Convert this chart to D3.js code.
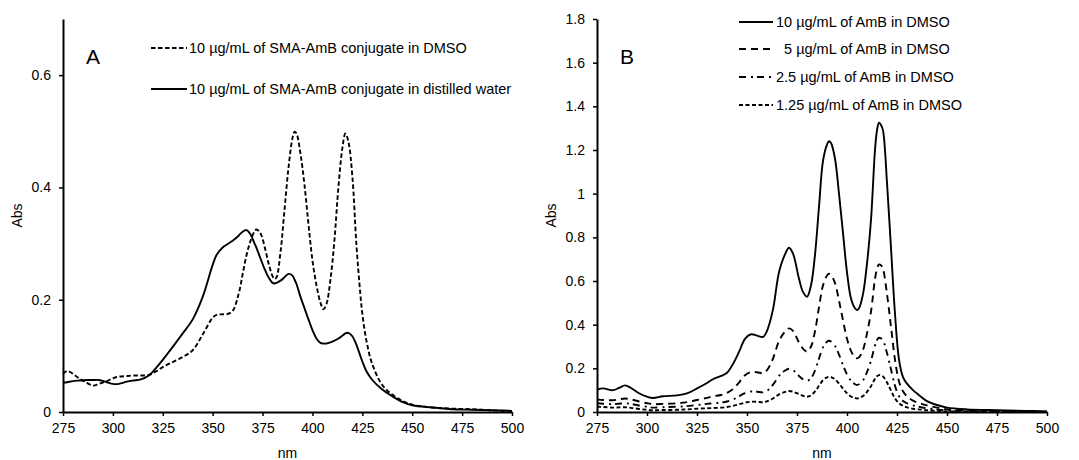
<!DOCTYPE html>
<html>
<head>
<meta charset="utf-8">
<script src="https://cdn.jsdelivr.net/npm/d3@7"></script>
<style>
  body { margin: 0; background: #fff; }
  svg text { font-family: Arial, "Liberation Sans", sans-serif; fill: #000; }
</style>
</head>
<body>
<div id="vis"></div>
<script>
// panel A: SMA-AmB conjugate
var nmA = [275, 277, 280, 283, 287, 290, 293, 297, 300, 303, 307, 310, 314, 318, 322, 325, 330, 335, 340, 345,
  350, 352, 355, 357, 360, 363, 365, 367, 369, 371, 372, 374, 376, 378, 380, 381, 382, 384, 386, 388,
  390, 391, 392, 394, 396, 398, 400, 402, 404, 405.5, 407, 409, 411, 413, 415, 416.5, 418, 420, 422, 424,
  425, 427, 430, 435, 440, 445, 450, 460, 470, 480, 490, 500];

var waterA = [0.052, 0.053, 0.055, 0.056, 0.057, 0.057, 0.057, 0.053, 0.050, 0.050, 0.054, 0.056, 0.058, 0.065, 0.080, 0.093, 0.116, 0.140, 0.165, 0.205,
  0.262, 0.280, 0.293, 0.298, 0.305, 0.314, 0.321, 0.324, 0.316, 0.300, 0.292, 0.273, 0.255, 0.240, 0.230, 0.229, 0.230, 0.234, 0.240, 0.246,
  0.243, 0.236, 0.228, 0.205, 0.185, 0.165, 0.146, 0.131, 0.123, 0.122, 0.122, 0.124, 0.127, 0.131, 0.136, 0.140, 0.141, 0.135, 0.120, 0.100,
  0.090, 0.073, 0.057, 0.040, 0.028, 0.018, 0.012, 0.008, 0.005, 0.004, 0.003, 0.002];

var dmsoA = [0.068, 0.073, 0.068, 0.060, 0.052, 0.047, 0.050, 0.055, 0.060, 0.063, 0.064, 0.065, 0.065, 0.066, 0.073, 0.080, 0.089, 0.098, 0.110, 0.138,
  0.168, 0.173, 0.174, 0.174, 0.180, 0.210, 0.245, 0.280, 0.305, 0.322, 0.325, 0.318, 0.295, 0.265, 0.242, 0.237, 0.240, 0.285, 0.360, 0.435,
  0.488, 0.499, 0.496, 0.460, 0.405, 0.335, 0.270, 0.226, 0.195, 0.183, 0.192, 0.235, 0.305, 0.400, 0.470, 0.496, 0.482, 0.420, 0.300, 0.210,
  0.175, 0.128, 0.085, 0.048, 0.031, 0.020, 0.013, 0.008, 0.006, 0.005, 0.003, 0.001];

// panel B: free AmB in DMSO
var nmB = [275, 278, 283, 286, 289, 292, 296, 300, 303, 308, 315, 320, 325, 330, 333, 337, 340, 343, 346, 349,
  352, 355, 358, 360, 363, 366, 369, 371, 373, 376, 378, 380, 382, 384, 386, 388, 390, 391, 392, 394,
  396, 398, 400, 402, 404, 405, 406, 408, 410, 412, 414, 415, 416, 417, 418, 420, 422, 424, 426, 428,
  430, 433, 437, 440, 445, 450, 460, 475, 490, 500];

var amb10 = [0.102, 0.108, 0.100, 0.110, 0.122, 0.110, 0.086, 0.070, 0.064, 0.072, 0.076, 0.085, 0.108, 0.133, 0.150, 0.165, 0.180, 0.220, 0.275, 0.335,
  0.356, 0.350, 0.344, 0.372, 0.470, 0.640, 0.722, 0.752, 0.725, 0.610, 0.550, 0.528, 0.580, 0.720, 0.940, 1.150, 1.225, 1.240, 1.232, 1.160,
  1.000, 0.820, 0.640, 0.520, 0.475, 0.467, 0.475, 0.540, 0.680, 0.880, 1.200, 1.290, 1.325, 1.315, 1.290, 1.050, 0.750, 0.450, 0.240, 0.160,
  0.130, 0.100, 0.070, 0.050, 0.032, 0.020, 0.012, 0.008, 0.005, 0.003];

var amb5 = [0.058, 0.055, 0.054, 0.058, 0.062, 0.058, 0.048, 0.040, 0.036, 0.037, 0.040, 0.045, 0.055, 0.065, 0.072, 0.078, 0.088, 0.105, 0.135, 0.168,
  0.183, 0.182, 0.178, 0.192, 0.245, 0.325, 0.368, 0.383, 0.372, 0.318, 0.290, 0.277, 0.300, 0.370, 0.480, 0.580, 0.625, 0.633, 0.628, 0.590,
  0.510, 0.420, 0.335, 0.280, 0.250, 0.246, 0.250, 0.285, 0.360, 0.460, 0.610, 0.655, 0.676, 0.672, 0.655, 0.540, 0.390, 0.240, 0.140, 0.095,
  0.072, 0.052, 0.038, 0.030, 0.020, 0.012, 0.007, 0.004, 0.002, 0.001];

var amb25 = [0.040, 0.038, 0.036, 0.038, 0.040, 0.037, 0.030, 0.024, 0.020, 0.022, 0.024, 0.027, 0.032, 0.037, 0.040, 0.043, 0.048, 0.057, 0.072, 0.086,
  0.094, 0.093, 0.090, 0.097, 0.125, 0.165, 0.190, 0.198, 0.192, 0.165, 0.150, 0.143, 0.155, 0.190, 0.245, 0.296, 0.322, 0.326, 0.323, 0.303,
  0.263, 0.215, 0.172, 0.143, 0.127, 0.124, 0.127, 0.145, 0.183, 0.235, 0.305, 0.330, 0.340, 0.337, 0.328, 0.270, 0.195, 0.120, 0.072, 0.050,
  0.040, 0.030, 0.022, 0.017, 0.011, 0.007, 0.004, 0.002, 0.001, 0.000];

var amb125 = [0.024, 0.023, 0.020, 0.021, 0.022, 0.019, 0.014, 0.010, 0.008, 0.009, 0.010, 0.012, 0.015, 0.017, 0.018, 0.020, 0.023, 0.028, 0.035, 0.043,
  0.047, 0.047, 0.045, 0.049, 0.062, 0.081, 0.092, 0.096, 0.093, 0.082, 0.074, 0.070, 0.076, 0.094, 0.120, 0.146, 0.159, 0.161, 0.160, 0.150,
  0.130, 0.107, 0.086, 0.071, 0.064, 0.062, 0.064, 0.073, 0.092, 0.118, 0.152, 0.164, 0.169, 0.168, 0.163, 0.135, 0.098, 0.062, 0.040, 0.028,
  0.021, 0.015, 0.011, 0.008, 0.005, 0.003, 0.002, 0.001, 0.000, 0.000];

var xTicks = [275, 300, 325, 350, 375, 400, 425, 450, 475, 500];
var yTicksA = [0, 0.2, 0.4, 0.6];
var yTicksB = [0, 0.2, 0.4, 0.6, 0.8, 1, 1.2, 1.4, 1.6, 1.8];

var width = 1079,
    height = 460;

var svg = d3.select('#vis')
  .append('svg')
    .attr('width', width)
    .attr('height', height);

function drawPanel(opt) {
  var x = d3.scaleLinear().domain([275, 500]).range([opt.left, opt.right]);
  var y = d3.scaleLinear().domain([0, opt.yMax]).range([opt.bottom, opt.top]);

  var g = svg.append('g');

  var xAxis = g.append('g')
    .attr('transform', 'translate(0,' + opt.bottom + ')')
    .call(d3.axisBottom(x).tickValues(xTicks).tickSize(4).tickSizeOuter(0).tickPadding(7));

  var yAxis = g.append('g')
    .attr('transform', 'translate(' + opt.left + ',0)')
    .call(d3.axisLeft(y).tickValues(opt.yTicks).tickSize(4).tickSizeOuter(0).tickPadding(8)
      .tickFormat(function(d) { return d3.format('')(+d.toFixed(1)); }));

  [xAxis, yAxis].forEach(function(a) {
    a.select('.domain').attr('stroke', '#000').attr('stroke-width', 2);
    a.selectAll('.tick line').attr('stroke', '#000').attr('stroke-width', 1.5);
    a.selectAll('.tick text').style('font-size', '14px').attr('fill', '#000');
  });

  var line = d3.line()
    .x(function(d) { return x(d[0]); })
    .y(function(d) { return y(d[1]); })
    .curve(d3.curveCatmullRom.alpha(0.5));

  opt.series.forEach(function(s) {
    g.append('path')
      .datum(opt.nm.map(function(n, i) { return [n, s.values[i]]; }))
      .attr('fill', 'none')
      .attr('stroke', '#000')
      .attr('stroke-width', 1.9)
      .attr('stroke-dasharray', s.dash)
      .attr('d', line);

    g.append('line')
      .attr('x1', s.lx1).attr('x2', s.lx2)
      .attr('y1', s.ly).attr('y2', s.ly)
      .attr('stroke', '#000')
      .attr('stroke-width', 1.9)
      .attr('stroke-dasharray', s.dash);

    g.append('text')
      .attr('x', s.tx)
      .attr('y', s.ly)
      .attr('dy', '0.35em')
      .style('font-size', '14.5px')
      .style('white-space', 'pre')
      .text(s.label);
  });

  g.append('text')
    .attr('x', (opt.left + opt.right) / 2)
    .attr('y', 458)
    .attr('text-anchor', 'middle')
    .style('font-size', '14px')
    .text('nm');

  g.append('text')
    .attr('transform', 'translate(' + (opt.left - 46) + ',' + ((opt.top + opt.bottom) / 2) + ') rotate(-90)')
    .attr('text-anchor', 'middle')
    .attr('dy', '0.35em')
    .style('font-size', '14px')
    .text('Abs');

  g.append('text')
    .attr('x', opt.left + 23)
    .attr('y', 64)
    .style('font-size', '21px')
    .text(opt.letter);
}

drawPanel({
  left: 63, right: 512, top: 19, bottom: 412, yMax: 0.7, yTicks: yTicksA, letter: 'A', nm: nmA,
  series: [
    { values: dmsoA, dash: '4.5,2.5', label: '10 µg/mL of SMA-AmB conjugate in DMSO', lx1: 151, lx2: 187, ly: 48, tx: 189 },
    { values: waterA, dash: null, label: '10 µg/mL of SMA-AmB conjugate in distilled water', lx1: 151, lx2: 187, ly: 89, tx: 189 }
  ]
});

drawPanel({
  left: 597, right: 1047, top: 19, bottom: 412, yMax: 1.8, yTicks: yTicksB, letter: 'B', nm: nmB,
  series: [
    { values: amb10, dash: null, label: '10 µg/mL of AmB in DMSO', lx1: 739, lx2: 773, ly: 22, tx: 776 },
    { values: amb5, dash: '7,5', label: '  5 µg/mL of AmB in DMSO', lx1: 739, lx2: 773, ly: 49, tx: 776 },
    { values: amb25, dash: '7,5,2,4', label: '2.5 µg/mL of AmB in DMSO', lx1: 739, lx2: 773, ly: 77, tx: 776 },
    { values: amb125, dash: '4,2.5', label: '1.25 µg/mL of AmB in DMSO', lx1: 739, lx2: 773, ly: 105, tx: 776 }
  ]
});
</script>
</body>
</html>
